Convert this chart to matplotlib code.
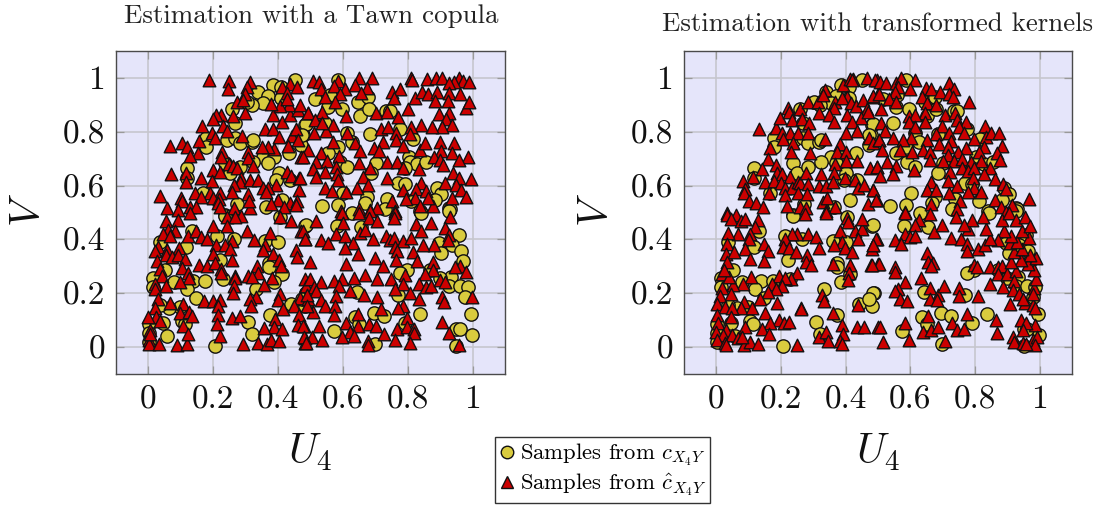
import numpy as np
import matplotlib
matplotlib.use("Agg")
import matplotlib.pyplot as plt
from matplotlib.lines import Line2D

plt.rcParams['font.family'] = ['cmr10', 'DejaVu Serif']
plt.rcParams['mathtext.fontset'] = 'cm'
plt.rcParams['axes.unicode_minus'] = False

tick_values = [0, 0.2, 0.4, 0.6, 0.8, 1]
tick_labels = ["0", "0.2", "0.4", "0.6", "0.8", "1"]
titles = ["Estimation with a Tawn copula", "Estimation with transformed kernels"]

true_samples = [
(.451,.991),(.385,.973),(.410,.967),(.338,.946),(.370,.933),(.410,.926),(.354,.905),(.321,.899),(.303,.911),(.259,.884),
(.267,.831),(.482,.825),(.477,.788),(.472,.751),(.179,.778),(.241,.769),(.267,.775),(.282,.757),(.318,.763),(.323,.769),
(.179,.744),(.433,.720),(.354,.707),(.387,.707),(.370,.683),(.323,.686),(.236,.683),(.251,.646),(.282,.670),(.118,.667),
(.118,.627),(.402,.646),(.395,.621),(.436,.621),(.167,.572),(.272,.531),(.364,.522),(.413,.547),(.236,.491),
(.586,.991),(.514,.921),(.560,.936),(.555,.893),(.596,.883),(.645,.909),(.676,.930),(.652,.859),(.680,.883),(.734,.878),
(.745,.878),(.486,.827),(.473,.788),(.545,.831),(.685,.790),(.614,.796),(.627,.763),(.775,.812),(.816,.773),(.586,.744),
(.555,.720),(.591,.689),(.614,.670),(.702,.683),(.686,.646),(.804,.707),(.808,.689),(.829,.679),(.857,.689),(.791,.664),
(.770,.611),(.791,.605),(.890,.590),(.904,.569),(.883,.547),(.601,.572),(.537,.525),(.586,.528),(.675,.556),(.668,.535),
(.737,.551),(.811,.541),(.839,.504),(.926,.516),(.931,.512),(.629,.498),(.729,.514),
(.236,.488),(.405,.485),(.133,.433),(.212,.411),(.264,.402),(.361,.393),(.400,.390),(.036,.389),(.116,.372),(.221,.322),
(.372,.312),(.372,.298),(.413,.273),(.051,.285),(.015,.257),(.229,.253),(.079,.242),(.138,.244),(.174,.244),(.120,.214),
(.015,.223),(.333,.217),(.387,.242),(.147,.181),(.097,.149),(.065,.146),(.036,.158),(.441,.160),(.482,.152),(.374,.119),
(.308,.093),(.103,.096),(.113,.084),(.044,.090),(.002,.084),(.003,.053),(.321,.049),(.058,.040),(.002,.019),(.205,.004),
(.482,.448),(.487,.201),
(.581,.448),(.486,.454),(.655,.446),(.842,.498),(.927,.504),(.958,.417),(.896,.386),(.937,.380),(.904,.349),(.965,.356),
(.970,.319),(.798,.285),(.775,.275),(.870,.285),(.934,.260),(.899,.257),(.927,.228),(.961,.228),(.986,.223),(.978,.186),
(.770,.195),(.642,.204),(.486,.201),(.473,.179),(.837,.123),(.994,.123),(.695,.125),(.726,.115),(.637,.112),(.650,.084),
(.791,.090),(.573,.059),(.950,.069),(.962,.069),(.998,.044),(.698,.012),(.950,.004),
]

tawn_samples = [
(.188,.991),(.248,.989),(.246,.960),(.313,.985),(.305,.967),(.297,.942),(.272,.909),(.292,.917),(.297,.870),(.262,.858),
(.223,.864),(.210,.864),(.198,.849),(.164,.822),(.231,.821),(.195,.797),(.205,.778),(.157,.765),(.103,.760),(.120,.744),
(.067,.748),(.154,.720),(.128,.711),(.290,.785),(.241,.802),(.359,.809),(.385,.809),(.403,.779),(.444,.785),(.456,.812),
(.460,.769),(.432,.747),(.387,.736),(.369,.744),(.349,.744),(.306,.726),(.308,.704),(.323,.674),(.226,.726),(.224,.707),
(.249,.679),(.262,.674),(.272,.664),(.200,.658),(.221,.649),(.116,.646),(.069,.643),(.161,.627),(.195,.618),(.116,.615),
(.287,.627),(.284,.612),(.313,.621),(.339,.621),(.264,.602),(.428,.652),(.441,.636),(.465,.630),(.472,.705),(.395,.602),
(.354,.590),(.369,.592),(.362,.578),(.464,.584),(.308,.569),(.257,.575),(.221,.571),(.190,.571),(.145,.571),(.036,.562),
(.100,.553),(.103,.541),(.162,.557),(.198,.553),(.219,.550),(.215,.534),(.058,.518),(.090,.510),(.128,.522),(.147,.522),
(.221,.522),(.264,.516),(.313,.518),(.311,.541),(.400,.547),(.377,.531),(.436,.534),(.459,.541),(.455,.528),(.418,.520),
(.385,.862),(.413,.837),(.436,.862),(.461,.880),(.434,.899),(.469,.901),(.405,.896),(.378,.902),(.492,.868),(.436,.979),
(.459,.967),(.413,.967),(.426,.944),(.428,.923),
(.509,.989),(.527,.985),(.531,.960),(.586,.989),(.573,.969),(.606,.957),(.591,.942),(.544,.930),(.575,.911),(.650,.998),
(.636,.975),(.691,.998),(.675,.964),(.655,.944),(.534,.874),(.493,.870),(.611,.859),(.701,.868),(.736,.874),(.750,.946),
(.776,.957),(.757,.926),(.811,.998),(.813,.991),(.860,.995),(.888,.999),(.907,.999),(.958,.999),(.970,.988),(.989,.983),
(.944,.983),(.927,.981),(.822,.926),(.845,.946),(.861,.939),(.891,.948),(.927,.944),(.962,.942),(.883,.915),(.924,.914),
(.801,.884),(.770,.853),(.981,.890),(.989,.909),(.896,.865),(.927,.868),(.917,.847),(.938,.825),(.907,.818),(.876,.818),
(.840,.825),(.809,.816),(.717,.812),(.739,.816),(.765,.797),(.806,.790),(.765,.769),(.785,.747),(.724,.763),(.614,.794),
(.636,.757),(.652,.728),(.695,.738),(.710,.730),(.650,.683),(.570,.825),(.548,.802),(.514,.843),(.534,.831),(.511,.794),
(.568,.763),(.493,.734),(.531,.720),(.476,.705),(.516,.686),(.589,.710),(.552,.691),(.579,.668),(.507,.662),(.545,.652),
(.516,.633),(.581,.642),(.586,.621),(.685,.664),(.662,.633),(.677,.602),(.642,.592),(.737,.630),(.736,.689),(.767,.689),
(.785,.667),(.836,.660),(.838,.732),(.854,.760),(.901,.763),(.942,.757),(.904,.728),(.935,.720),(.986,.707),(.958,.695),
(.881,.707),(.899,.695),(.909,.676),(.940,.646),(.994,.625),(.958,.630),(.916,.609),(.950,.602),(.963,.584),(.979,.557),
(.938,.553),(.878,.525),(.840,.609),(.824,.588),(.855,.580),(.864,.555),(.786,.584),(.822,.553),(.796,.550),(.837,.525),
(.750,.544),(.760,.507),(.545,.592),(.565,.580),(.611,.578),(.650,.512),(.684,.510),(.705,.516),(.593,.504),(.468,.627),
(.054,.467),(.092,.473),(.128,.498),(.241,.483),(.287,.488),(.267,.483),(.407,.483),(.441,.467),(.200,.448),(.241,.448),
(.304,.433),(.374,.424),(.472,.433),(.482,.401),(.082,.433),(.059,.436),(.044,.421),(.067,.411),(.123,.414),(.147,.430),
(.161,.409),(.180,.401),(.257,.393),(.325,.396),(.359,.380),(.207,.378),(.236,.380),(.251,.364),(.354,.359),(.385,.346),
(.455,.362),(.457,.335),(.200,.347),(.029,.372),(.021,.356),(.057,.362),(.054,.343),(.095,.368),(.072,.335),(.092,.343),
(.113,.327),(.028,.319),(.257,.322),(.157,.306),(.182,.303),(.205,.312),(.223,.290),(.036,.290),(.103,.294),(.123,.275),
(.126,.257),(.223,.275),(.335,.300),(.339,.275),(.403,.322),(.410,.300),(.267,.265),(.267,.257),(.308,.265),(.320,.259),
(.382,.257),(.356,.232),(.263,.228),(.260,.201),(.097,.242),(.041,.263),(.021,.236),(.021,.214),(.053,.226),(.405,.199),
(.400,.174),(.331,.186),(.313,.177),(.316,.154),(.482,.253),(.487,.226),(.467,.183),(.449,.154),(.492,.177),(.031,.177),
(.067,.164),(.021,.146),(.108,.161),(.171,.170),(.200,.170),(.221,.174),(.215,.152),(.097,.127),(.126,.131),(.133,.115),
(.023,.112),(.000,.112),(.036,.096),(.108,.080),(.215,.121),(.212,.086),(.259,.109),(.282,.115),(.390,.106),(.387,.075),
(.356,.072),(.411,.069),(.416,.140),(.465,.119),(.462,.082),(.479,.078),(.005,.065),(.003,.028),(.003,.010),(.033,.010),
(.087,.007),(.120,.010),(.123,.047),(.221,.041),(.292,.010),(.337,.016),(.367,.010),(.378,.025),(.402,.022),(.482,.035),
(.482,.016),(.005,.047),
(.596,.500),(.650,.500),(.684,.504),(.760,.500),(.929,.483),(.518,.470),(.601,.461),(.680,.479),(.706,.470),(.757,.479),
(.824,.458),(.873,.461),(.842,.433),(.914,.442),(.927,.417),(.924,.399),(.880,.380),(.478,.433),(.484,.401),(.533,.396),
(.554,.387),(.578,.421),(.606,.414),(.652,.424),(.668,.436),(.693,.403),(.734,.414),(.745,.399),(.758,.405),(.784,.395),
(.809,.405),(.847,.380),(.632,.387),(.606,.368),(.647,.346),(.611,.309),(.760,.372),(.768,.356),(.816,.352),(.699,.331),
(.764,.325),(.830,.321),(.498,.315),(.724,.300),(.878,.315),(.878,.288),(.852,.272),(.960,.303),(.945,.298),(.979,.279),
(.791,.267),(.747,.254),(.668,.266),(.634,.257),(.706,.254),(.596,.253),(.573,.245),(.533,.242),(.497,.254),(.588,.228),
(.511,.224),(.786,.236),(.835,.233),(.855,.224),(.873,.226),(.899,.251),(.916,.241),(.760,.214),(.806,.201),(.622,.207),
(.666,.195),(.704,.186),(.579,.191),(.517,.207),(.488,.195),(.834,.179),(.906,.186),(.998,.186),(.912,.167),(.533,.174),
(.545,.152),(.577,.152),(.509,.130),(.572,.121),(.488,.154),(.719,.142),(.786,.152),(.770,.146),(.647,.123),(.798,.109),
(.609,.090),(.647,.080),(.681,.084),(.701,.080),(.767,.068),(.798,.075),(.820,.069),(.820,.053),(.907,.093),(.926,.053),
(.526,.078),(.476,.078),(.621,.056),(.634,.043),(.596,.038),(.726,.047),(.506,.037),(.480,.038),(.534,.025),(.485,.016),
(.676,.022),(.676,.006),(.760,.028),(.806,.014),(.958,.006),
]

kernel_samples = [
(.131,.812),(.167,.741),(.159,.699),(.183,.815),(.198,.852),(.221,.890),(.224,.874),(.235,.843),(.258,.886),(.265,.847),
(.285,.911),(.313,.911),(.316,.870),(.288,.831),(.337,.954),(.331,.936),(.367,.911),(.364,.890),(.349,.864),(.365,.835),
(.393,.973),(.414,.997),(.424,.997),(.419,.991),(.467,.999),(.403,.930),(.388,.926),(.418,.905),(.432,.895),(.454,.917),
(.485,.930),(.496,.991),(.501,.942),(.465,.886),(.446,.852),(.470,.874),(.403,.864),(.419,.835),(.401,.797),(.436,.804),
(.203,.794),(.229,.794),(.254,.794),(.282,.796),(.206,.773),(.236,.757),(.231,.726),(.290,.720),(.336,.772),(.383,.754),
(.372,.723),(.400,.723),(.401,.692),(.436,.692),(.367,.679),(.473,.775),(.485,.760),(.504,.769),(.183,.676),(.140,.660),
(.188,.646),(.203,.643),(.114,.633),(.081,.618),(.149,.612),(.179,.617),(.200,.608),(.229,.631),(.211,.592),(.234,.590),
(.252,.612),(.260,.608),(.278,.646),(.285,.605),(.324,.642),(.316,.599),(.340,.600),(.364,.648),(.362,.615),(.398,.627),
(.429,.621),(.439,.590),(.456,.603),(.475,.667),(.496,.670),(.483,.584),(.090,.587),(.085,.571),(.162,.571),(.213,.565),
(.252,.571),(.280,.567),(.100,.541),(.124,.537),(.145,.522),(.218,.525),(.259,.522),(.278,.516),(.329,.538),(.342,.555),
(.367,.522),(.340,.507),(.470,.531),(.496,.547),(.034,.498),(.062,.491),
(.490,.991),(.506,.983),(.526,.981),(.555,.981),(.572,.998),(.562,.967),(.613,.991),(.598,.960),(.552,.948),(.485,.932),
(.503,.939),(.534,.921),(.555,.909),(.509,.884),(.647,.964),(.665,.957),(.637,.930),(.693,.946),(.719,.981),(.735,.960),
(.719,.939),(.733,.930),(.651,.905),(.680,.899),(.644,.870),(.782,.909),(.708,.862),(.737,.870),(.596,.859),(.613,.862),
(.596,.837),(.644,.835),(.744,.843),(.772,.837),(.508,.834),(.522,.802),(.613,.816),(.697,.821),(.749,.816),(.832,.821),
(.765,.797),(.721,.797),(.678,.790),(.603,.778),(.545,.778),(.504,.769),(.577,.769),(.651,.769),(.690,.754),(.726,.767),
(.798,.772),(.834,.782),(.851,.794),(.875,.794),(.883,.747),(.829,.744),(.772,.738),(.716,.744),(.511,.734),(.567,.734),
(.605,.723),(.639,.734),(.660,.723),(.718,.713),(.747,.725),(.811,.726),(.867,.720),(.877,.695),(.660,.695),(.701,.692),
(.736,.692),(.760,.697),(.789,.686),(.820,.692),(.528,.689),(.555,.674),(.497,.670),(.611,.658),(.723,.649),(.760,.664),
(.777,.654),(.798,.664),(.846,.664),(.829,.642),(.863,.623),(.795,.627),(.547,.642),(.506,.637),(.663,.612),(.718,.618),
(.887,.607),(.895,.586),(.744,.600),(.798,.592),(.819,.578),(.778,.575),(.651,.584),(.680,.584),(.721,.571),(.485,.584),
(.495,.547),(.665,.532),(.754,.544),(.863,.547),(.967,.549),(.914,.528),(.744,.514),(.583,.503),(.880,.519),(.895,.503),
(.032,.489),(.044,.477),(.075,.470),(.090,.477),(.128,.473),(.120,.446),(.067,.419),(.037,.424),(.104,.419),(.100,.403),
(.034,.384),(.090,.366),(.029,.347),(.055,.353),(.147,.384),(.160,.357),(.103,.329),(.147,.320),(.032,.316),(.249,.421),
(.234,.421),(.213,.403),(.285,.421),(.308,.409),(.206,.372),(.226,.368),(.247,.353),(.316,.369),(.280,.341),(.278,.316),
(.292,.304),(.383,.431),(.429,.431),(.452,.440),(.439,.403),(.403,.480),(.408,.464),(.451,.477),(.339,.498),(.275,.495),
(.390,.390),(.364,.378),(.398,.368),(.419,.353),(.485,.378),(.480,.366),(.496,.403),(.360,.310),(.413,.304),(.411,.277),
(.406,.248),(.477,.304),(.501,.310),(.193,.264),(.249,.275),(.231,.254),(.213,.257),(.203,.226),(.172,.233),(.183,.217),
(.159,.203),(.136,.180),(.188,.165),(.106,.261),(.083,.233),(.051,.229),(.018,.270),(.039,.261),(.024,.285),(.018,.221),
(.046,.196),(.011,.189),(.003,.159),(.027,.149),(.085,.168),(.075,.146),(.049,.147),(.109,.147),(.262,.147),(.262,.140),
(.328,.193),(.333,.172),(.439,.158),(.362,.128),(.152,.125),(.195,.102),(.208,.090),(.224,.094),(.165,.088),(.090,.075),
(.140,.069),(.162,.047),(.044,.112),(.003,.119),(.005,.090),(.000,.057),(.029,.065),(.021,.044),(.049,.044),(.067,.032),
(.003,.026),(.027,.017),(.031,.007),(.087,.007),(.104,.020),(.129,.010),(.249,.007),(.318,.038),(.339,.057),(.344,.023),
(.390,.081),(.393,.047),(.383,.022),(.390,.010),(.436,.073),(.458,.075),(.501,.073),(.080,.038),
(.583,.498),(.662,.493),(.740,.483),(.626,.471),(.615,.452),(.673,.427),(.698,.454),(.585,.421),(.600,.409),(.615,.411),
(.552,.399),(.570,.384),(.495,.403),(.485,.378),(.726,.406),(.757,.400),(.775,.384),(.775,.357),(.810,.366),(.832,.378),
(.651,.351),(.656,.316),(.670,.312),(.663,.301),(.552,.298),(.554,.279),(.503,.308),(.480,.304),(.632,.258),(.585,.242),
(.562,.217),(.552,.207),(.567,.177),(.590,.170),(.660,.221),(.685,.195),(.703,.226),(.660,.177),(.683,.174),(.749,.221),
(.752,.190),(.808,.190),(.798,.304),(.805,.298),(.846,.236),(.846,.298),(.870,.298),(.885,.301),(.870,.273),(.899,.273),
(.928,.283),(.888,.224),(.921,.245),(.916,.211),(.908,.159),(.937,.199),(.955,.164),(.978,.156),(.985,.146),(.947,.180),
(.983,.221),(.980,.199),(.990,.252),(.981,.285),(.965,.310),(.988,.331),(.970,.341),(.942,.325),(.911,.316),(.921,.353),
(.945,.363),(.909,.387),(.931,.390),(.967,.406),(.944,.433),(.911,.411),(.890,.433),(.870,.396),(.845,.403),(.834,.440),
(.777,.440),(.790,.471),(.767,.452),(.824,.483),(.885,.473),(.906,.498),(.926,.471),(.954,.485),(.969,.449),(.654,.116),
(.583,.088),(.506,.073),(.516,.020),(.595,.028),(.639,.057),(.665,.065),(.685,.075),(.728,.091),(.744,.065),(.765,.069),
(.774,.122),(.865,.102),(.868,.051),(.706,.023),(.942,.102),(.985,.081),(.957,.091),(.949,.065),(.918,.036),(.921,.020),
(.947,.017),(.978,.026),(.993,.038),(.985,.007),(.959,.010),
]

YELLOW = "#D9CB3E"
RED = "#CC0000"
EDGE = "#111111"
W, H = 1104, 507

fig = plt.figure(figsize=(W/100, H/100), dpi=100)
rects = [(116, 51, 505, 374), (684, 51, 1072, 374)]
title_pos = [(311, 16), (877, 24)]
true_arr = np.array(true_samples)
for rect, title, tpos, est in zip(rects, titles, title_pos, [tawn_samples, kernel_samples]):
    l, t, r, b = rect
    ax = fig.add_axes([l/W, 1-b/H, (r-l)/W, (b-t)/H])
    ax.set_facecolor("#E5E5FA")
    ax.set_xlim(-0.1, 1.1)
    ax.set_ylim(-0.1, 1.1)
    ax.set_axisbelow(True)
    ax.grid(True, color="#C6C6CE", lw=1.2)
    ax.set_xticks(tick_values, tick_labels)
    ax.set_yticks(tick_values, tick_labels)
    ax.tick_params(direction='in', length=6, width=0.9, color="#999999",
                   top=True, right=True, labelsize=24, pad=8, labelcolor="#111111")
    for s in ax.spines.values():
        s.set_color("#4a4a4a")
        s.set_linewidth(1.0)
    est_arr = np.array(est)
    ax.scatter(true_arr[:, 0], true_arr[:, 1], marker='o', s=92, c=YELLOW,
               edgecolors=EDGE, linewidths=1.0, clip_on=False, zorder=3)
    ax.scatter(est_arr[:, 0], est_arr[:, 1], marker='^', s=82, c=RED,
               edgecolors=EDGE, linewidths=1.0, clip_on=False, zorder=4)
    fig.text(tpos[0]/W, 1-tpos[1]/H, title, ha='center', va='center', fontsize=19.4, color="#222222")
    fig.text((l+r)/2/W, 1-452/H, r"$U_4$", ha='center', va='center', fontsize=30, color="#111111")
    fig.text((l-87)/W, 1-210/H, r"$V$", ha='center', va='center', rotation=90, fontsize=30, color="#111111")

handles = [
    Line2D([], [], ls='none', marker='o', ms=9, mfc=YELLOW, mec=EDGE, mew=1.0),
    Line2D([], [], ls='none', marker='^', ms=8, mfc=RED, mec=EDGE, mew=1.0),
]
labels = [r"Samples from $c_{X_4Y}$", r"Samples from $\hat{c}_{X_4Y}$"]
leg = fig.legend(handles, labels, loc='center', bbox_to_anchor=(602.5/W, 1-470/H), fontsize=16.3,
                 frameon=True, fancybox=False, edgecolor="#333333", framealpha=1,
                 handlelength=0.7, handletextpad=0.2, borderpad=0.2, labelspacing=0.12, borderaxespad=0)
leg.get_frame().set_linewidth(1.0)

fig.savefig("out.png", dpi=100)
